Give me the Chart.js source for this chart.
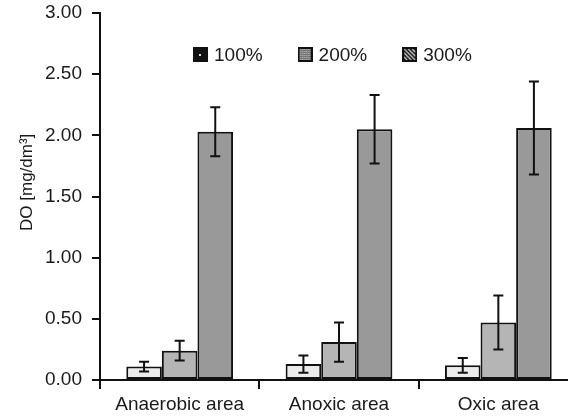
<!DOCTYPE html>
<html>
<head>
<meta charset="utf-8">
<script src="https://cdn.jsdelivr.net/npm/chart.js@4"></script>
<style>
  html, body { margin: 0; padding: 0; background: #fff; overflow: hidden; }
  #wrap { width: 578px; height: 417px; }
</style>
</head>
<body>
<div id="wrap"><canvas id="doChart" width="578" height="417"></canvas></div>
<script>
// ข้อมูล DO แต่ละพื้นที่
const categories = ["Anaerobic area", "Anoxic area", "Oxic area"];
const seriesNames = ["100%", "200%", "300%"];
const do100 = [0.11, 0.13, 0.12];
const do200 = [0.24, 0.31, 0.47];
const do300 = [2.03, 2.05, 2.06];
const err100 = [0.04, 0.07, 0.06];
const err200 = [0.08, 0.16, 0.22];
const err300 = [0.20, 0.28, 0.38];
const yTicks = [0, 0.5, 1, 1.5, 2, 2.5, 3];

const FONT = "'Liberation Sans', Arial, sans-serif";
const barColors = ["#ebebeb", "#b5b5b5", "#999999"];

// ไอคอนลายของ legend
function makeIcon(kind) {
  const c = document.createElement("canvas");
  c.width = 15; c.height = 15;
  const g = c.getContext("2d");
  g.fillStyle = "#111";
  g.fillRect(0, 0, 15, 15);
  if (kind === 0) {
    g.fillStyle = "#ddd";
    g.fillRect(6, 7, 2, 2);
  } else if (kind === 1) {
    g.fillStyle = "#777";
    g.fillRect(2, 2, 11, 11);
    g.fillStyle = "#bbb";
    for (let i = 2; i < 13; i += 2) {
      for (let j = 2; j < 13; j += 2) g.fillRect(i, j, 1, 1);
    }
  } else {
    g.strokeStyle = "#ccc";
    g.lineWidth = 1.3;
    for (let k = -8; k <= 8; k += 4) {
      g.beginPath();
      g.moveTo(2 + k, 2);
      g.lineTo(13 + k, 13);
      g.stroke();
    }
    g.strokeStyle = "#111";
    g.lineWidth = 2;
    g.strokeRect(1, 1, 13, 13);
  }
  return c;
}

// วาด error bar
const errorBarPlugin = {
  id: "errorBars",
  afterDatasetsDraw(chart) {
    const ctx = chart.ctx;
    const y = chart.scales.y;
    ctx.save();
    ctx.strokeStyle = "#111";
    ctx.lineWidth = 2;
    chart.data.datasets.forEach((ds, i) => {
      const meta = chart.getDatasetMeta(i);
      meta.data.forEach((bar, j) => {
        const v = ds.data[j];
        const e = ds.errors[j];
        const top = y.getPixelForValue(v + e);
        const bot = y.getPixelForValue(v - e);
        ctx.beginPath();
        ctx.moveTo(bar.x, top);
        ctx.lineTo(bar.x, bot);
        ctx.moveTo(bar.x - 5, top);
        ctx.lineTo(bar.x + 5, top);
        ctx.moveTo(bar.x - 5, bot);
        ctx.lineTo(bar.x + 5, bot);
        ctx.stroke();
      });
    });
    ctx.restore();
  }
};

// legend ในพื้นที่กราฟ
const legendPlugin = {
  id: "innerLegend",
  afterDraw(chart) {
    const ctx = chart.ctx;
    ctx.save();
    ctx.font = "19px " + FONT;
    ctx.fillStyle = "#1a1a1a";
    ctx.textBaseline = "middle";
    let x = chart.chartArea.left + 93;
    const yc = 55;
    chart.data.datasets.forEach((ds, i) => {
      ctx.drawImage(makeIcon(i), x, yc - 8);
      ctx.fillText(ds.label, x + 21, yc + 1);
      x += 21 + ctx.measureText(ds.label).width + 35;
    });
    ctx.restore();
  }
};

const values = [do100, do200, do300];
const errors = [err100, err200, err300];

new Chart(document.getElementById("doChart"), {
  type: "bar",
  data: {
    labels: categories,
    datasets: seriesNames.map((name, i) => ({
      label: name,
      data: values[i],
      errors: errors[i],
      backgroundColor: barColors[i],
      borderColor: "#111",
      borderWidth: 2,
      borderSkipped: false,
      categoryPercentage: 0.67,
      barPercentage: 1
    }))
  },
  options: {
    responsive: false,
    animation: false,
    layout: { padding: { top: 13, right: 0, bottom: 0, left: 0 } },
    plugins: {
      legend: { display: false },
      tooltip: { enabled: false }
    },
    scales: {
      x: {
        grid: {
          offset: true,
          drawOnChartArea: false,
          drawTicks: true,
          tickLength: 9,
          color: "#111",
          lineWidth: 2
        },
        border: { color: "#111", width: 2 },
        ticks: {
          color: "#1a1a1a",
          font: { family: FONT, size: 19 },
          padding: 4,
          maxRotation: 0
        },
        afterFit(s) { s.height = 37; }
      },
      y: {
        min: 0,
        max: 3,
        afterBuildTicks(s) { s.ticks = yTicks.map(v => ({ value: v })); },
        grid: {
          drawOnChartArea: false,
          tickLength: 8,
          color: "#111",
          lineWidth: 2
        },
        border: { color: "#111", width: 2 },
        ticks: {
          color: "#1a1a1a",
          font: { family: FONT, size: 19 },
          padding: 10,
          callback: v => Number(v).toFixed(2)
        },
        title: {
          display: true,
          text: "      DO [mg/dm³]",
          color: "#1a1a1a",
          font: { family: FONT, size: 17 },
          padding: { top: 17, bottom: 0 }
        },
        afterFit(s) {
          s.width = 100;
          s.paddingTop = 0;
          s.paddingBottom = 0;
        }
      }
    }
  },
  plugins: [errorBarPlugin, legendPlugin]
});
</script>
</body>
</html>
